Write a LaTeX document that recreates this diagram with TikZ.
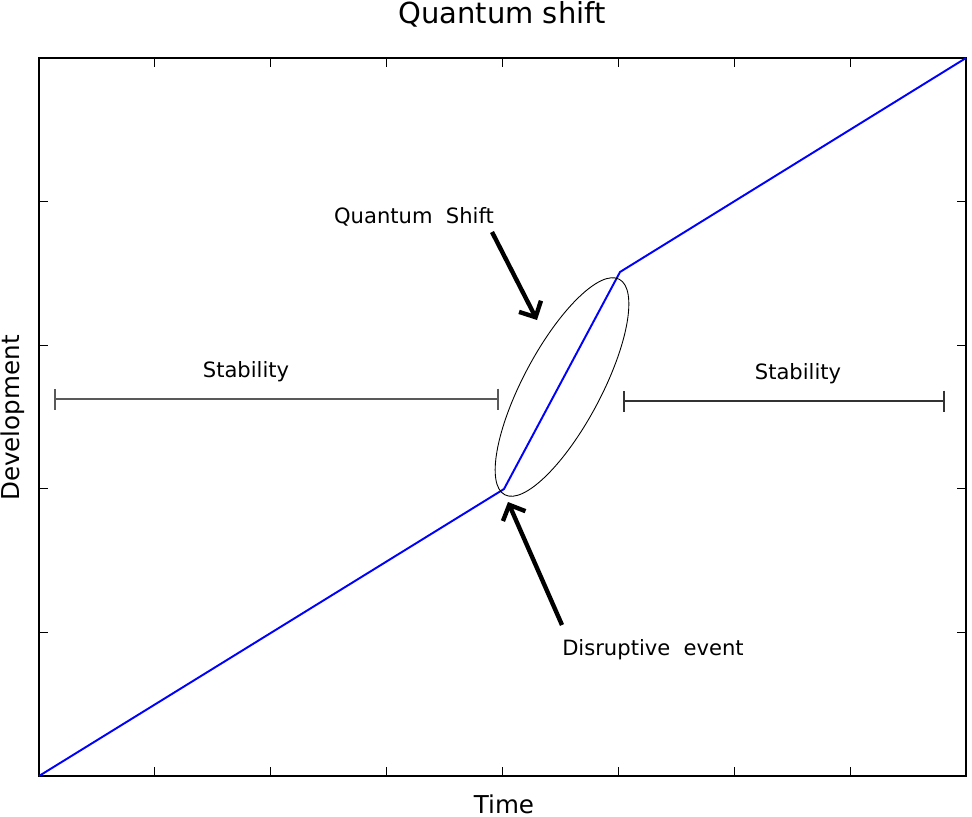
\documentclass[tikz,border=0pt]{standalone}
\usepackage{fontspec}
\setmainfont{DejaVu Sans}
\usetikzlibrary{arrows.meta}

\begin{document}
\begin{tikzpicture}[x=0.02cm,y=0.02cm,
  lbl/.style={font=\fontsize{12}{14}\selectfont,inner sep=0pt},
  span/.style={line width=1.2pt,{Bar[width=0.42cm]}-{Bar[width=0.42cm]}},
  pointer/.style={line width=2.5pt,-{Straight Barb[length=7pt,width=14pt]}}]
\useasboundingbox (-39,-40) rectangle (933,776);
\draw[line width=1.1pt] (0,0) rectangle (927,718);
\foreach \i in {1,...,7} {
  \draw[line width=0.6pt] (\i*115.875,0) -- ++(0,9);
  \draw[line width=0.6pt] (\i*115.875,718) -- ++(0,-9);
}
\foreach \j in {1,...,4} {
  \draw[line width=0.6pt] (0,\j*143.6) -- ++(9,0);
  \draw[line width=0.6pt] (927,\j*143.6) -- ++(-9,0);
}
\coordinate (p0) at (0,0);
\coordinate (p1) at (465,287);
\coordinate (p2) at (581,504);
\coordinate (p3) at (927,718);
\draw[blue,line width=1.1pt,line join=round] (p0) -- (p1) -- (p2) -- (p3);
\draw[line width=0.5pt,rotate around={62:(523,389)}] (523,389) ellipse [x radius=122,y radius=39];
\coordinate (lfrom) at (15,377);
\coordinate (lto) at (460,377);
\draw[span,black!65] (lfrom) -- (lto);
\node[lbl] (lstab) at (207,404) {Stability};
\coordinate (rfrom) at (584,375);
\coordinate (rto) at (906,375);
\draw[span,black!80] (rfrom) -- (rto);
\node[lbl] (rstab) at (759,402) {Stability};
\node[lbl] (qlabel) at (375,559) {Quantum~~Shift};
\coordinate (qtail) at (453,544);
\coordinate (qtip) at (498,456);
\draw[pointer] (qtail) -- (qtip);
\node[lbl] (dlabel) at (614,126) {Disruptive~~event};
\coordinate (dtail) at (523,151);
\coordinate (dtip) at (469,274);
\draw[pointer] (dtail) -- (dtip);
\node[font=\fontsize{14}{16}\selectfont,inner sep=0pt] (xlabel) at (465,-28) {Time};
\node[font=\fontsize{14}{16}\selectfont,inner sep=0pt,rotate=90] (ylabel) at (-26,358) {Development};
\node[font=\fontsize{16.5}{18}\selectfont,inner sep=0pt] (title) at (463,762) {Quantum shift};
\end{tikzpicture}
\end{document}
